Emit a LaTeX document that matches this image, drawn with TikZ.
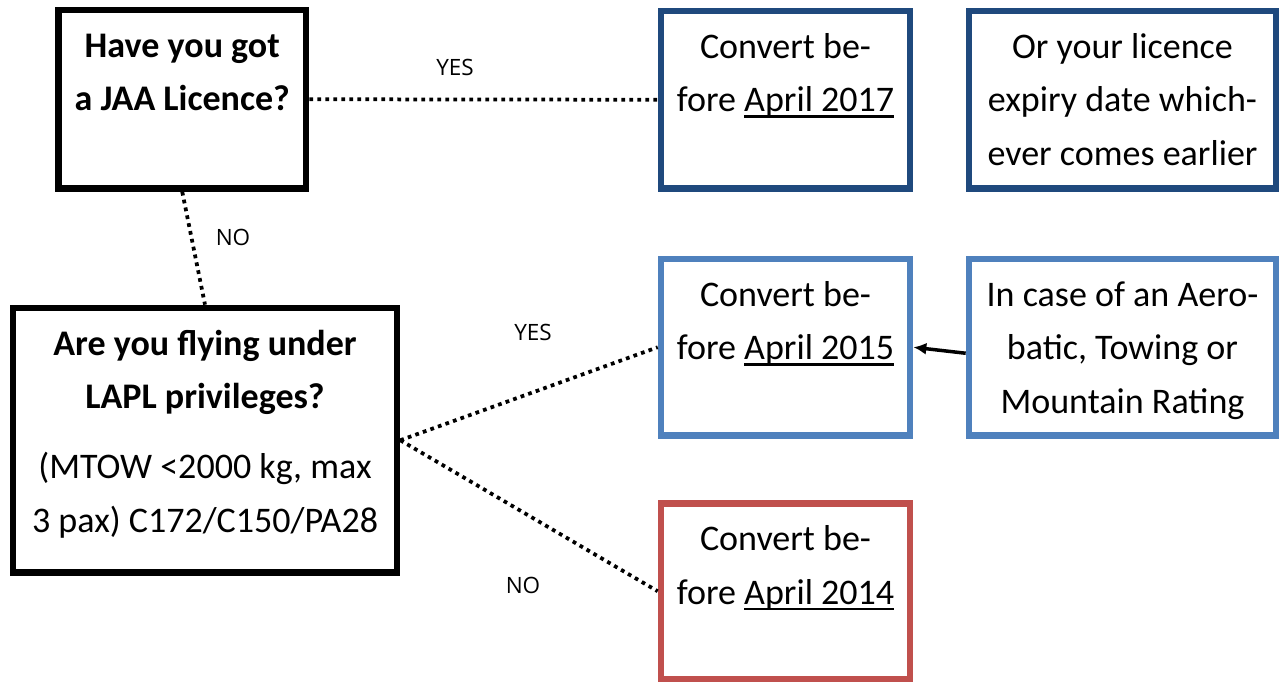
\documentclass[tikz,border=0pt]{standalone}
\usepackage{fontspec}
\setmainfont{Carlito}
\newfontfamily\answerfont{Open Sans}
\usepackage{tikz}
\usetikzlibrary{arrows.meta}
\definecolor{darkblue}{HTML}{1F497D}
\definecolor{lightblue}{HTML}{4F81BD}
\definecolor{lightred}{HTML}{C0504D}
\newcommand{\undl}[1]{\setbox0\hbox{#1}\rlap{\rule[-0.12cm]{\wd0}{0.05cm}}\box0}
\newcommand{\boxtext}[3]{\parbox[c][#1][t]{#2}{\centering\rule{0pt}{0.94cm}#3}}

\begin{document}
\begin{tikzpicture}[
    x=0.02cm,
    y=-0.02cm,
    >={Latex[length=0.26cm,width=0.24cm]},
    font=\fontsize{20.5}{30.7}\selectfont,
    question/.style={
		rectangle,
		draw=black,
		line width=0.134cm,
		inner sep=0pt,
		fill=white
	},
	datebox/.style={
		rectangle,
		draw=#1,
		line width=0.134cm,
		inner sep=0pt,
		fill=white
	},
	answer/.style={
		font=\answerfont\fontsize{12.8}{15}\selectfont
	},
	choice/.style={
		line width=0.075cm,
		dash pattern=on 0.075cm off 0.085cm
	}
  ]
 \useasboundingbox (0,0) rectangle (1279,682);

 % // questions
 \node [question] (jaa) at (182.25,99.25)
 {\boxtext{3.57cm}{4.95cm}{\bfseries Have you got\\a JAA Licence?}};
 \node [question] (lapl) at (205,440.25)
 {\boxtext{5.29cm}{7.68cm}{\textbf{Are you flying under\\LAPL privileges?}\\[0.32cm]%
 (MTOW <2000 kg, max\\3 pax) C172/C150/PA28}};

 % // deadlines
 \node [datebox=darkblue] (apr17) at (785.5,99.75)
 {\boxtext{3.55cm}{4.98cm}{Convert be-\\fore \undl{April 2017}}};
 \node [datebox=darkblue] (expiry) at (1122.5,99.75)
 {\boxtext{3.55cm}{6.14cm}{Or your licence\\expiry date which-\\ever comes earlier}};
 \node [datebox=lightblue] (apr15) at (785.5,347.25)
 {\boxtext{3.53cm}{4.98cm}{Convert be-\\fore \undl{April 2015}}};
 \node [datebox=lightblue] (aero) at (1122.5,347.25)
 {\boxtext{3.53cm}{6.14cm}{In case of an Aero-\\batic, Towing or\\Mountain Rating}};
 \node [datebox=lightred] (apr14) at (785.5,591.25)
 {\boxtext{3.51cm}{4.98cm}{Convert be-\\fore \undl{April 2014}}};

 % // answers
 \draw [choice] (jaa.east) -- (apr17.west);
 \draw [choice] (jaa.south) -- (lapl.north);
 \draw [choice] (lapl.east) -- (apr15.west);
 \draw [choice] (lapl.east) -- (apr14.west);
 \draw [->, line width=0.07cm] ([yshift=-0.12cm]aero.west) -- (apr15.east);

 \node [answer] (yes1) at (455,67) {YES};
 \node [answer] (no1) at (233,237) {NO};
 \node [answer] (yes2) at (533,332) {YES};
 \node [answer] (no2) at (523,585) {NO};

\end{tikzpicture}
\end{document}
